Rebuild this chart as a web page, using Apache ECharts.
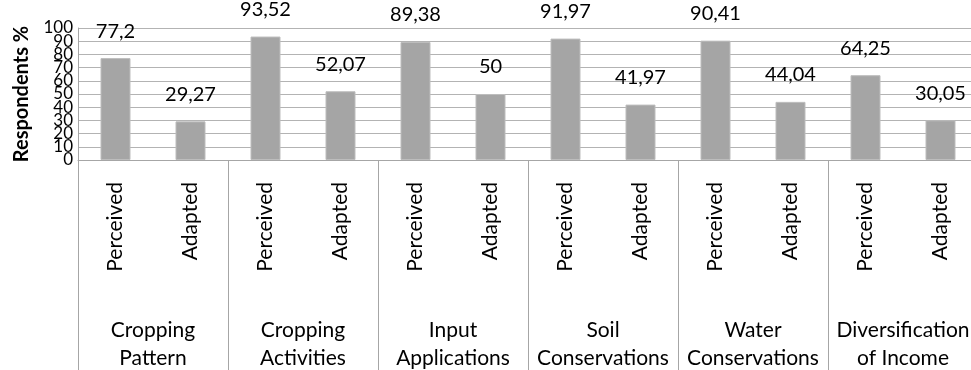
<!DOCTYPE html>
<html>
<head>
<meta charset="utf-8">
<script src="https://cdn.jsdelivr.net/npm/echarts@6/dist/echarts.min.js"></script>
<style>html,body{margin:0;padding:0;background:#fff;}#c{width:971px;height:370px;}</style>
</head>
<body>
<div id="c"></div>
<script>
const subCategories = ["Perceived","Adapted","Perceived","Adapted","Perceived","Adapted","Perceived","Adapted","Perceived","Adapted","Perceived","Adapted"];
const groups = ["Cropping Pattern","Cropping Activities","Input Applications","Soil Conservations","Water Conservations","Diversification of Income"];
const values = [77.2, 29.27, 93.52, 52.07, 89.38, 50, 91.97, 41.97, 90.41, 44.04, 64.25, 30.05];
const yAxisName = "Respondents %";
const yMin = 0, yMax = 100, yStep = 10;

const FONT = "Lato, 'Open Sans', sans-serif";
const yLabelStyle = {color: '#000', fontSize: 17, fontFamily: FONT, margin: 5, hideOverlap: false};
const chart = echarts.init(document.getElementById('c'), null, {renderer: 'canvas'});
chart.setOption({
  animation: false,
  textStyle: {fontFamily: FONT},
  grid: {left: 78, right: -7, top: 28, bottom: 210, containLabel: false, outerBoundsMode: 'none'},
  xAxis: [
    {
      type: 'category', data: subCategories, position: 'bottom',
      axisLine: {show: true, lineStyle: {color: '#a6a6a6', width: 1}},
      axisTick: {show: false},
      axisLabel: {rotate: 90, margin: 22, fontSize: 21, color: '#000', fontFamily: FONT, interval: 0, hideOverlap: false}
    },
    {
      type: 'category', data: groups, position: 'bottom', offset: 0,
      axisLine: {show: false},
      axisTick: {show: true, length: 215, interval: 0, lineStyle: {color: '#a6a6a6', width: 1}},
      axisLabel: {margin: 156, fontSize: 21, lineHeight: 28, color: '#000', fontFamily: FONT, interval: 0, hideOverlap: false,
        formatter: v => v.replace(' ', '\n')}
    }
  ],
  yAxis: [
    {
      type: 'value', min: yMin, max: yMax, interval: yStep, position: 'left',
      name: yAxisName, nameLocation: 'middle', nameGap: 46, nameRotate: 90, nameMoveOverlap: false,
      nameTextStyle: {fontSize: 20, fontWeight: 'bold', color: '#000', fontFamily: FONT},
      axisLine: {show: true, lineStyle: {color: '#a6a6a6'}},
      axisTick: {show: false},
      splitLine: {show: true, lineStyle: {color: '#b3b3b3', width: 1}},
      axisLabel: Object.assign({showMinLabel: false, showMaxLabel: false}, yLabelStyle)
    },
    {
      type: 'value', min: yMin, max: yMax, interval: yMax - yMin, position: 'left', offset: 0,
      axisLine: {show: false}, axisTick: {show: false}, splitLine: {show: false},
      axisLabel: Object.assign({showMinLabel: true, showMaxLabel: true}, yLabelStyle)
    }
  ],
  series: [{
    type: 'bar', xAxisIndex: 0, yAxisIndex: 0, data: values, barWidth: 30,
    itemStyle: {color: '#a5a5a5', borderColor: '#bdbdbd', borderWidth: 1},
    label: {show: true, position: 'top', distance: 17, fontSize: 20, color: '#000', fontFamily: FONT,
      formatter: p => String(p.value).replace('.', ',')}
  }]
});
</script>
</body>
</html>
